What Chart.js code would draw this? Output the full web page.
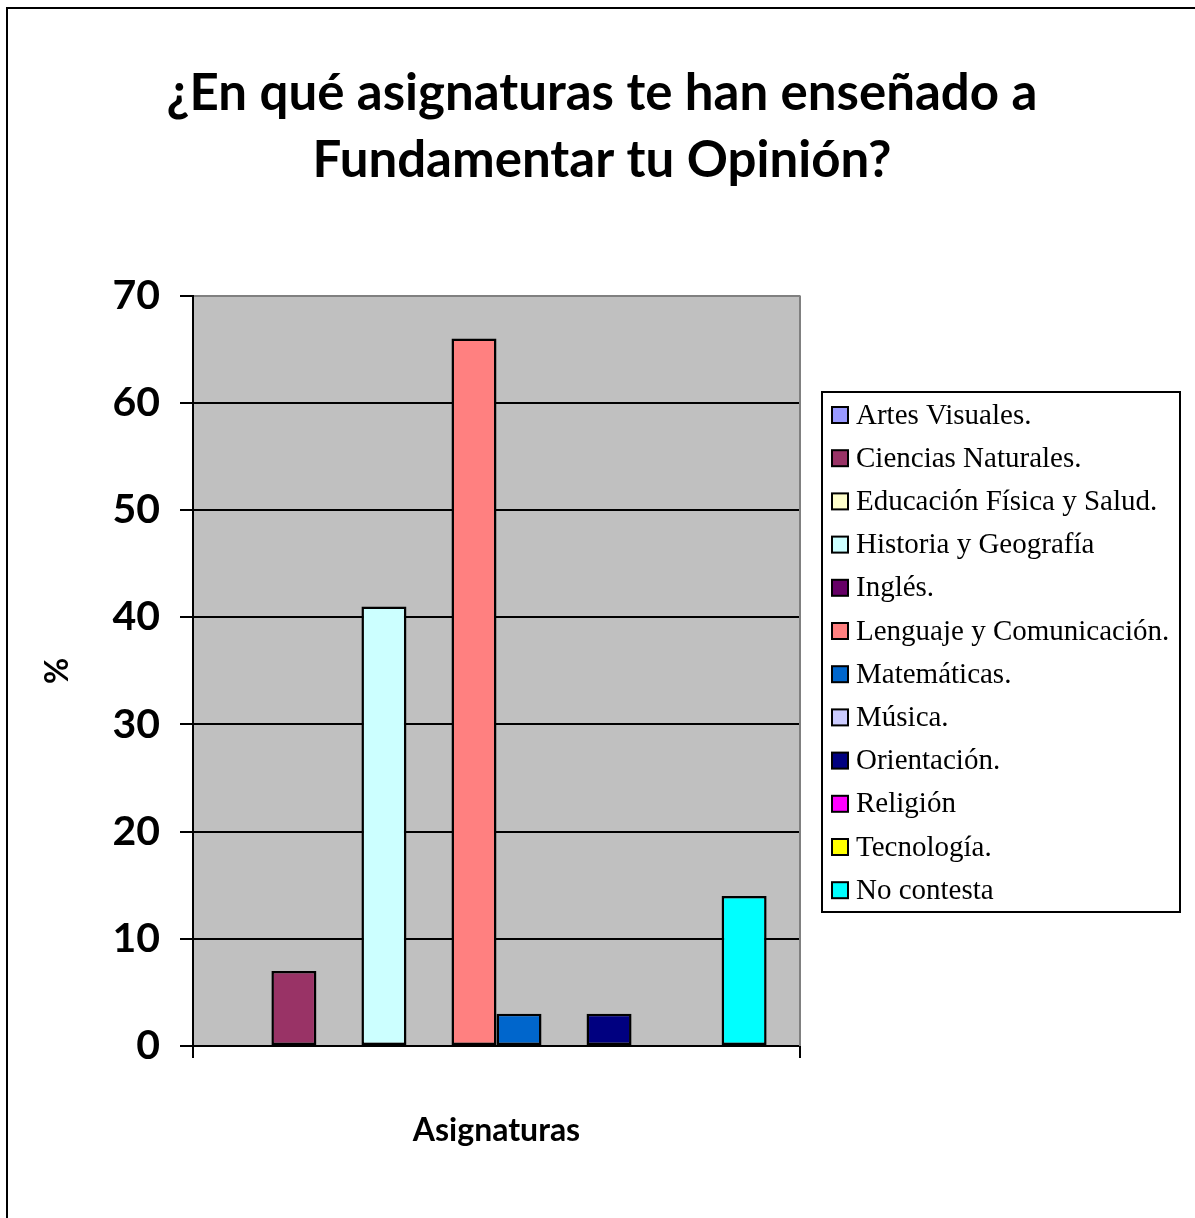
<!DOCTYPE html>
<html>
<head>
<meta charset="utf-8">
<script src="https://cdn.jsdelivr.net/npm/chart.js@4"></script>
<style>
  html, body { margin: 0; padding: 0; background: #fff; }
  #wrap { width: 1195px; height: 1218px; }
</style>
</head>
<body>
<div id="wrap"><canvas id="chart" width="1195" height="1218"></canvas></div>
<script>
const categories = [''];
const seriesNames = [
    'Artes Visuales.',
    'Ciencias Naturales.',
    'Educación Física y Salud.',
    'Historia y Geografía',
    'Inglés.',
    'Lenguaje y Comunicación.',
    'Matemáticas.',
    'Música.',
    'Orientación.',
    'Religión',
    'Tecnología.',
    'No contesta'
];
const seriesValues = [0, 7, 0, 41, 0, 66, 3, 0, 3, 0, 0, 14];
const seriesColors = [
    '#9999FF', '#993366', '#FFFFCC', '#CCFFFF', '#660066', '#FF8080',
    '#0066CC', '#CCCCFF', '#000080', '#FF00FF', '#FFFF00', '#00FFFF'
];
const yTicks = { min: 0, max: 70, step: 10 };

const titleLines = ['¿En qué asignaturas te han enseñado a', 'Fundamentar tu Opinión?'];
const xTitle = 'Asignaturas';
const yTitle = '%';

const sansFont = 'Lato, "Open Sans", sans-serif';
const serifFont = '"Liberation Serif", "Times New Roman", serif';

// background, outer frame and plot area fill
const framePlugin = {
    id: 'frame',
    beforeDraw(chart) {
        const { ctx, chartArea: a } = chart;
        ctx.save();
        ctx.fillStyle = '#fff';
        ctx.fillRect(0, 0, chart.width, chart.height);
        ctx.fillStyle = '#000';
        ctx.fillRect(6, 7, chart.width, 2);
        ctx.fillRect(6, 7, 2, chart.height);
        ctx.fillStyle = '#C0C0C0';
        ctx.fillRect(a.left, a.top, a.right - a.left, a.bottom - a.top);
        ctx.restore();
    },
    beforeDatasetsDraw(chart) {
        const { ctx, chartArea: a } = chart;
        ctx.save();
        ctx.strokeStyle = '#808080';
        ctx.lineWidth = 2;
        ctx.beginPath();
        ctx.moveTo(a.right, a.top);
        ctx.lineTo(a.right, a.bottom);
        ctx.stroke();
        ctx.restore();
    }
};

// boxed legend like the original
const legendBox = { left: 822, top: 392, right: 1180, bottom: 912 };
const boxLegendPlugin = {
    id: 'boxLegend',
    afterDraw(chart) {
        const { ctx } = chart;
        ctx.save();
        ctx.fillStyle = '#fff';
        ctx.fillRect(legendBox.left, legendBox.top, legendBox.right - legendBox.left, legendBox.bottom - legendBox.top);
        ctx.strokeStyle = '#000';
        ctx.lineWidth = 2;
        ctx.strokeRect(legendBox.left, legendBox.top, legendBox.right - legendBox.left, legendBox.bottom - legendBox.top);

        const rowH = 43.2;
        const firstY = 415;
        ctx.font = '29px ' + serifFont;
        ctx.textBaseline = 'middle';
        ctx.textAlign = 'left';
        chart.data.datasets.forEach((ds, i) => {
            const y = firstY + i * rowH;
            ctx.fillStyle = ds.backgroundColor;
            ctx.fillRect(832, y - 8, 16, 16);
            ctx.strokeStyle = '#000';
            ctx.lineWidth = 2;
            ctx.strokeRect(832, y - 8, 16, 16);
            ctx.fillStyle = '#000';
            ctx.fillText(ds.label, 856, y + 1);
        });
        ctx.restore();
    }
};

const datasets = seriesNames.map((name, i) => ({
    label: name,
    data: [seriesValues[i]],
    backgroundColor: seriesColors[i],
    borderColor: '#000',
    borderWidth: ctx => (ctx.raw > 0 ? 2.5 : 0),
    borderSkipped: false,
    categoryPercentage: 0.89,
    barPercentage: 1
}));

new Chart(document.getElementById('chart'), {
    type: 'bar',
    data: { labels: categories, datasets },
    options: {
        responsive: false,
        animation: false,
        layout: { padding: { left: 9, right: 0, top: 0, bottom: 0 } },
        plugins: {
            legend: { display: false },
            tooltip: { enabled: false },
            title: {
                display: true,
                text: titleLines,
                color: '#000',
                font: { family: sansFont, size: 51, weight: 'bold', lineHeight: 1.31 },
                padding: { top: 60, bottom: 102 }
            }
        },
        scales: {
            x: {
                grid: {
                    display: true,
                    offset: true,
                    drawOnChartArea: false,
                    color: '#000',
                    lineWidth: 2,
                    tickLength: 12
                },
                border: { display: true, color: '#000', width: 2 },
                ticks: { display: false },
                title: {
                    display: true,
                    text: xTitle,
                    color: '#000',
                    font: { family: sansFont, size: 32, weight: 'bold' },
                    padding: { top: 0, bottom: 68 }
                },
                afterFit(scale) { scale.height = 172; }
            },
            y: {
                min: yTicks.min,
                max: yTicks.max,
                ticks: {
                    stepSize: yTicks.step,
                    color: '#000',
                    padding: 20,
                    font: { family: sansFont, size: 41, weight: 'bold' }
                },
                grid: {
                    color: ctx => (ctx.tick && ctx.tick.value === yTicks.max ? '#808080' : '#000'),
                    tickColor: '#000',
                    lineWidth: 2,
                    tickLength: 13
                },
                border: { display: true, color: '#000', width: 2 },
                title: {
                    display: true,
                    text: yTitle,
                    color: '#000',
                    font: { family: sansFont, size: 32, weight: 'bold' },
                    padding: { top: 29, bottom: 0 }
                },
                afterFit(scale) { scale.width = 184; }
            },
            legendSpace: {
                type: 'linear',
                position: 'right',
                display: true,
                grid: { display: false },
                border: { display: false },
                ticks: { display: false },
                afterFit(scale) { scale.width = 395; }
            }
        }
    },
    plugins: [framePlugin, boxLegendPlugin]
});
</script>
</body>
</html>
